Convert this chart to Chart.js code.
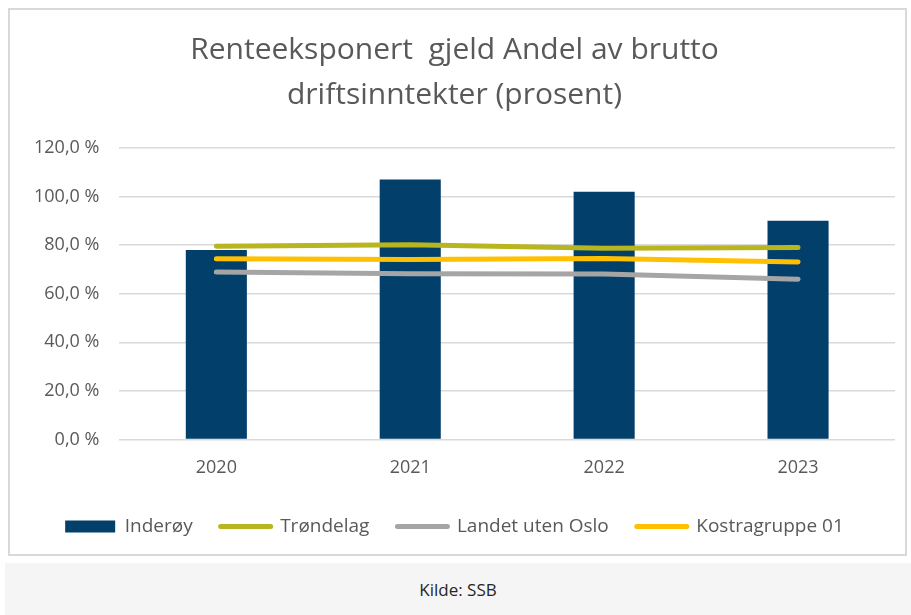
<!DOCTYPE html>
<html>
<head>
<meta charset="utf-8">
<script src="https://cdn.jsdelivr.net/npm/chart.js@4/dist/chart.umd.min.js"></script>
<style>
  html, body { margin: 0; padding: 0; background: #fff; }
  #box {
    position: absolute; left: 8px; top: 8px;
    width: 895px; height: 544px;
    border: 2px solid #d9d9d9;
  }
  #kilde {
    position: absolute; left: 5px; top: 563px;
    width: 906px; height: 52px;
    background: #f5f5f5;
    font-family: 'Open Sans', sans-serif;
    font-size: 17px; color: #262626;
    text-align: center; line-height: 54px;
  }
</style>
</head>
<body>
<div id="box"><canvas id="chart"></canvas></div>
<div id="kilde">Kilde: SSB</div>
<script>
const years = ['2020', '2021', '2022', '2023'];
const inderoy = [78, 107, 102, 90];
const trondelag = [79.5, 80.2, 78.7, 79];
const landet = [68.9, 68.2, 68.1, 66];
const kostra = [74.4, 74.1, 74.5, 73.1];
const yTicks = [0, 20, 40, 60, 80, 100, 120];

const fontFam = "'Open Sans', sans-serif";

const canvas = document.getElementById('chart');
canvas.width = 895;
canvas.height = 544;
canvas.style.width = '895px';
canvas.style.height = '544px';

new Chart(canvas.getContext('2d'), {
  type: 'bar',
  data: {
    labels: years,
    datasets: [{
      type: 'bar',
      label: 'Inderøy',
      data: inderoy,
      backgroundColor: '#033f6b',
      barPercentage: 0.315,
      categoryPercentage: 1,
      order: 2
    }, {
      type: 'line',
      label: 'Trøndelag',
      data: trondelag,
      borderColor: '#b8b51e',
      backgroundColor: '#b8b51e',
      borderWidth: 5,
      borderCapStyle: 'round',
      pointRadius: 0,
      order: 1
    }, {
      type: 'line',
      label: 'Landet uten Oslo',
      data: landet,
      borderColor: '#a5a5a5',
      backgroundColor: '#a5a5a5',
      borderWidth: 5,
      borderCapStyle: 'round',
      pointRadius: 0,
      order: 1
    }, {
      type: 'line',
      label: 'Kostragruppe 01',
      data: kostra,
      borderColor: '#ffc000',
      backgroundColor: '#ffc000',
      borderWidth: 5,
      borderCapStyle: 'round',
      pointRadius: 0,
      order: 1
    }]
  },
  options: {
    responsive: false,
    animation: false,
    layout: { padding: { left: 4, right: 10, top: 18, bottom: 8 } },
    plugins: {
      title: {
        display: true,
        text: ['Renteeksponert  gjeld Andel av brutto', 'driftsinntekter (prosent)'],
        color: '#595959',
        font: { family: fontFam, size: 30, weight: 'normal', lineHeight: 1.5 },
        padding: { top: 0, bottom: 30 }
      },
      legend: {
        position: 'bottom',
        labels: {
          color: '#595959',
          font: { family: fontFam, size: 19 },
          usePointStyle: true,
          pointStyleWidth: 50,
          boxHeight: 12,
          padding: 28,
          sort: (a, b) => a.datasetIndex - b.datasetIndex,
          generateLabels: function (chart) {
            const items = Chart.defaults.plugins.legend.labels.generateLabels(chart);
            items.forEach(it => {
              const ds = chart.data.datasets[it.datasetIndex];
              it.pointStyle = ds.type === 'line' ? 'line' : 'rect';
              if (ds.type === 'line') { it.lineWidth = 5; it.lineCap = 'round'; }
              it.fontColor = '#595959';
            });
            return items;
          }
        }
      },
      tooltip: { enabled: false }
    },
    scales: {
      x: {
        grid: { display: false },
        border: { display: false },
        ticks: { color: '#595959', font: { family: fontFam, size: 18 }, padding: 10 }
      },
      y: {
        min: 0,
        max: 120,
        afterBuildTicks: function (axis) {
          axis.ticks = yTicks.map(v => ({ value: v }));
        },
        grid: { color: '#d9d9d9', lineWidth: 1.5, drawTicks: false },
        border: { display: false },
        ticks: {
          color: '#595959',
          font: { family: fontFam, size: 18 },
          padding: 20,
          callback: v => v.toFixed(1).replace('.', ',') + ' %'
        }
      }
    }
  }
});
</script>
</body>
</html>
